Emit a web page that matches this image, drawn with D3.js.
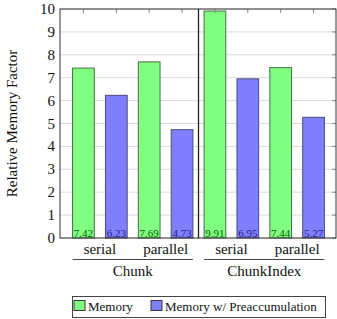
<!DOCTYPE html>
<html>
<head>
<meta charset="utf-8">
<script src="https://cdn.jsdelivr.net/npm/d3@7"></script>
<style>
  body { margin: 0; background: #fff; }
  text { font-family: "Liberation Serif", "DejaVu Serif", serif; }
</style>
</head>
<body>
<svg id="chart" width="337" height="319"></svg>
<script>
// data
var groups = ["Chunk", "ChunkIndex"];
var modes = ["serial", "parallel"];
var memory = [7.42, 7.69, 9.91, 7.44];
var preacc = [6.23, 4.73, 6.95, 5.27];
var yTicks = [0, 1, 2, 3, 4, 5, 6, 7, 8, 9, 10];
var seriesNames = ["Memory", "Memory w/ Preaccumulation"];

var fills = ["#80ff80", "#8080ff"];
var strokes = ["#4a6a4a", "#4a4a7a"];
var textCols = ["#006000", "#202080"];

// flatten bars: for each group/mode a memory and a preacc bar
var bars = [];
groups.forEach(function (g, gi) {
    modes.forEach(function (m, mi) {
        var k = gi * 2 + mi;
        bars.push({ id: bars.length, s: 0, v: memory[k] });
        bars.push({ id: bars.length, s: 1, v: preacc[k] });
    });
});

var plotL = 60, plotR = 336, plotT = 9, plotB = 238;
var svg = d3.select("#chart");

var x = d3.scaleBand()
    .domain(d3.range(bars.length))
    .range([67, 330])
    .paddingInner(0.34)
    .paddingOuter(0.17);

var y = d3.scaleLinear().domain([0, 10]).range([plotB, plotT]);

// grid
svg.append("g").selectAll("line.grid")
    .data(yTicks).enter()
    .append("line")
    .attr("x1", plotL).attr("x2", plotR)
    .attr("y1", function (d) { return y(d); })
    .attr("y2", function (d) { return y(d); })
    .attr("stroke", "#dcdcdc")
    .attr("stroke-width", 1);

// y axis labels
svg.append("g").selectAll("text.ytick")
    .data(yTicks).enter()
    .append("text")
    .attr("x", 55)
    .attr("y", function (d) { return y(d) + 5; })
    .attr("text-anchor", "end")
    .attr("font-size", 15)
    .attr("fill", "#111")
    .text(function (d) { return d; });

// bars
svg.append("g").selectAll("rect.bar")
    .data(bars).enter()
    .append("rect")
    .attr("x", function (d) { return x(d.id); })
    .attr("width", x.bandwidth())
    .attr("y", function (d) { return y(d.v); })
    .attr("height", function (d) { return y(0) - y(d.v); })
    .attr("fill", function (d) { return fills[d.s]; })
    .attr("stroke", function (d) { return strokes[d.s]; })
    .attr("stroke-width", 1);

// value labels
svg.append("g").selectAll("text.val")
    .data(bars).enter()
    .append("text")
    .attr("x", function (d) { return x(d.id) + x.bandwidth() / 2; })
    .attr("y", plotB - 1.5)
    .attr("text-anchor", "middle")
    .attr("font-size", 11)
    .attr("fill", function (d) { return textCols[d.s]; })
    .text(function (d) { return d.v.toFixed(2); });

// ticks top at bar centres
var xt = svg.append("g");
bars.forEach(function (d) {
    var cx = x(d.id) + x.bandwidth() / 2;
    xt.append("line").attr("x1", cx).attr("x2", cx).attr("y1", plotT).attr("y2", plotT + 4)
        .attr("stroke", "#888");
});
// right ticks
yTicks.forEach(function (t) {
    xt.append("line").attr("x1", plotR - 4).attr("x2", plotR).attr("y1", y(t)).attr("y2", y(t))
        .attr("stroke", "#888");
});

// frame
svg.append("rect")
    .attr("x", plotL).attr("y", plotT)
    .attr("width", plotR - plotL).attr("height", plotB - plotT)
    .attr("fill", "none").attr("stroke", "#333").attr("stroke-width", 1);

// separator between groups
var sep = (x(3) + x(4) + x.bandwidth()) / 2;
svg.append("line")
    .attr("x1", sep).attr("x2", sep).attr("y1", plotT).attr("y2", plotB)
    .attr("stroke", "#222").attr("stroke-width", 1.3);

// x labels: mode names + group names with rule
groups.forEach(function (g, gi) {
    modes.forEach(function (m, mi) {
        var i0 = gi * 4 + mi * 2;
        var cx = (x(i0) + x(i0 + 1) + x.bandwidth()) / 2;
        svg.append("text").attr("x", cx).attr("y", 254)
            .attr("text-anchor", "middle").attr("font-size", 15).attr("fill", "#111")
            .text(m);
    });
    var gx0 = x(gi * 4), gx1 = x(gi * 4 + 3) + x.bandwidth();
    svg.append("line").attr("x1", gx0).attr("x2", gx1).attr("y1", 259.5).attr("y2", 259.5)
        .attr("stroke", "#444").attr("stroke-width", 1);
    svg.append("text").attr("x", (gx0 + gx1) / 2).attr("y", 276)
        .attr("text-anchor", "middle").attr("font-size", 15).attr("fill", "#111")
        .text(g);
});

// y axis title
svg.append("text")
    .attr("transform", "translate(17," + ((plotT + plotB) / 2) + ") rotate(-90)")
    .attr("text-anchor", "middle").attr("font-size", 15).attr("fill", "#111")
    .text("Relative Memory Factor");

// legend
var lg = svg.append("g");
lg.append("rect").attr("x", 72.5).attr("y", 296.5).attr("width", 253).attr("height", 21)
    .attr("fill", "#fff").attr("stroke", "#444");
var lx = [74, 151];
seriesNames.forEach(function (n, i) {
    lg.append("rect").attr("x", lx[i]).attr("y", 300.5).attr("width", 11).attr("height", 10)
        .attr("fill", fills[i]).attr("stroke", "#333");
    lg.append("text").attr("x", lx[i] + 14).attr("y", 311)
        .attr("font-size", 13).attr("fill", "#111").text(n);
});
</script>
</body>
</html>
